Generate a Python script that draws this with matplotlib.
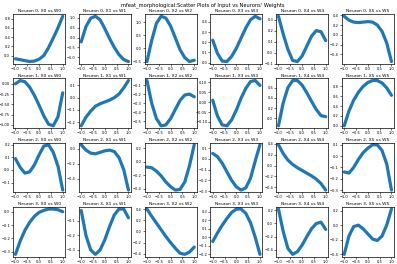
import matplotlib
matplotlib.use("Agg")
import matplotlib.pyplot as plt

x_vals = [-1.0, -0.8, -0.6, -0.4, -0.2, 0.0, 0.2, 0.4, 0.6, 0.8, 1.0]

n0_w0 = [-0.07, -0.09, -0.11, -0.13, -0.12, -0.08, 0.0, 0.17, 0.38, 0.6, 0.85]
n0_w1 = [-0.22, 0.55, 0.98, 1.08, 0.9, 0.45, -0.05, -0.5, -0.87, -1.12, -1.22]
n0_w2 = [-0.5, 0.3, 0.95, 1.22, 1.15, 0.85, 0.4, -0.05, -0.35, -0.5, -0.45]
n0_w3 = [0.22, 0.09, 0.015, 0.01, 0.06, 0.14, 0.24, 0.34, 0.42, 0.455, 0.43]
n0_w4 = [0.33, 0.17, 0.03, -0.07, -0.08, -0.03, 0.06, 0.15, 0.2, 0.19, 0.11]
n0_w5 = [0.38, 0.3, 0.26, 0.25, 0.26, 0.27, 0.26, 0.2, 0.07, -0.17, -0.55]

n1_w0 = [0.0, 0.08, 0.05, -0.08, -0.28, -0.52, -0.78, -0.98, -1.02, -0.8, -0.22]
n1_w1 = [-0.23, -0.16, -0.11, -0.07, -0.05, -0.035, -0.02, 0.0, 0.03, 0.08, 0.14]
n1_w2 = [-0.05, -0.3, -0.47, -0.55, -0.54, -0.47, -0.37, -0.27, -0.21, -0.2, -0.23]
n1_w3 = [0.01, -0.07, -0.115, -0.12, -0.09, -0.04, 0.02, 0.07, 0.105, 0.11, 0.085]
n1_w4 = [-0.15, 0.3, 0.6, 0.74, 0.74, 0.65, 0.5, 0.33, 0.17, 0.05, 0.03]
n1_w5 = [0.0, 0.3, 0.52, 0.68, 0.8, 0.88, 0.92, 0.92, 0.87, 0.77, 0.62]

n2_w0 = [0.09, 0.02, -0.025, -0.015, 0.04, 0.12, 0.19, 0.2, 0.14, 0.03, -0.16]
n2_w1 = [0.05, -0.02, -0.06, -0.07, -0.05, -0.03, -0.02, -0.04, -0.12, -0.28, -0.55]
n2_w2 = [-0.08, -0.09, -0.14, -0.21, -0.3, -0.37, -0.42, -0.41, -0.3, -0.06, 0.25]
n2_w3 = [0.05, 0.02, -0.04, -0.12, -0.2, -0.26, -0.29, -0.27, -0.18, -0.02, 0.13]
n2_w4 = [0.38, 0.22, 0.1, 0.02, -0.04, -0.09, -0.14, -0.19, -0.25, -0.33, -0.45]
n2_w5 = [-0.14, -0.15, -0.1, -0.03, 0.03, 0.07, 0.1, 0.1, 0.05, -0.07, -0.3]

n3_w0 = [-0.32, -0.22, -0.14, -0.08, -0.035, -0.005, 0.01, 0.02, 0.02, 0.015, 0.0]
n3_w1 = [-0.03, -0.2, -0.3, -0.33, -0.3, -0.23, -0.14, -0.06, -0.02, -0.02, -0.08]
n3_w2 = [0.4, 0.27, 0.15, 0.03, -0.09, -0.2, -0.3, -0.39, -0.41, -0.37, -0.28]
n3_w3 = [-0.05, 0.05, 0.14, 0.22, 0.29, 0.33, 0.33, 0.28, 0.17, 0.0, -0.2]
n3_w4 = [0.22, -0.12, -0.38, -0.47, -0.43, -0.33, -0.2, -0.08, 0.0, 0.02, -0.09]
n3_w5 = [-0.4, -0.15, -0.02, 0.0, -0.05, -0.12, -0.19, -0.21, -0.15, 0.0, 0.22]

weights = [
    [n0_w0, n0_w1, n0_w2, n0_w3, n0_w4, n0_w5],
    [n1_w0, n1_w1, n1_w2, n1_w3, n1_w4, n1_w5],
    [n2_w0, n2_w1, n2_w2, n2_w3, n2_w4, n2_w5],
    [n3_w0, n3_w1, n3_w2, n3_w3, n3_w4, n3_w5],
]

suptitle = "mfeat_morphological:Scatter Plots of Input vs Neurons' Weights"

fig, axes = plt.subplots(4, 6, figsize=(3.97, 2.64), dpi=100)
fig.subplots_adjust(left=0.033, right=0.992, top=0.947, bottom=0.028,
                    wspace=0.265, hspace=0.29)
for i in range(4):
    for j in range(6):
        ax = axes[i][j]
        ax.plot(x_vals, weights[i][j], color="#1f77b4", lw=2.3, solid_capstyle="round")
        ax.set_title(f"Neuron {i}, X{j} vs W{j}", fontsize=3.2, pad=1.2)
        ax.tick_params(labelsize=2.6, length=1.2, width=0.4, pad=1)
        ax.set_xticks([-1.0, -0.5, 0.0, 0.5, 1.0])
        for s in ax.spines.values():
            s.set_linewidth(0.5)
fig.suptitle(suptitle, fontsize=3.7, x=0.51, y=0.99)
fig.savefig("out.png", dpi=100)
